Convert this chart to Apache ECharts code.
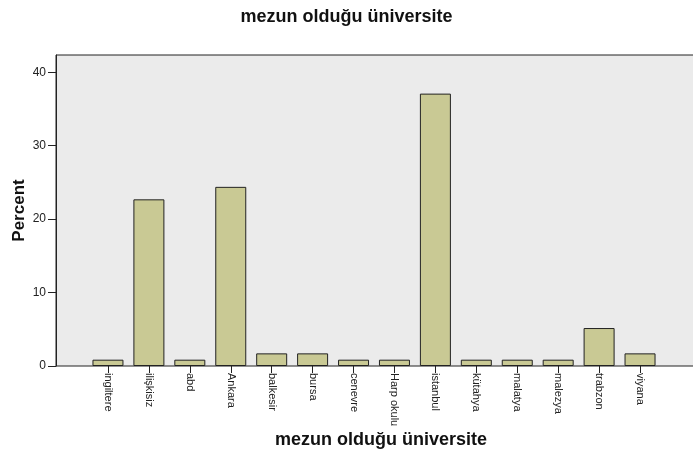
<!DOCTYPE html>
<html>
<head>
<meta charset="utf-8">
<script src="https://cdn.jsdelivr.net/npm/echarts@6/dist/echarts.min.js"></script>
<style>
  html, body { margin: 0; padding: 0; background: #fff; }
  #chart { width: 693px; height: 451px; }
</style>
</head>
<body>
<div id="chart"></div>
<script>
// mezun olduğu üniversite - percent per university
const universities = ['ingiltere', 'ilişkisiz', 'abd', 'Ankara', 'balkesir', 'bursa', 'cenevre',
  'Harp okulu', 'istanbul', 'kütahya', 'malatya', 'malezya', 'trabzon', 'viyana']
const percents = [0.86, 22.7, 0.86, 24.4, 1.72, 1.72, 0.86, 0.86, 37.1, 0.86, 0.86, 0.86, 5.17, 1.72]
const yTicks = [0, 10, 20, 30, 40]
const yMax = 42.36

const font = 'Arial, "Liberation Sans", Helvetica, sans-serif'
const chart = echarts.init(document.getElementById('chart'), null, { renderer: 'canvas' })

chart.setOption({
  animation: false,
  textStyle: { fontFamily: font },
  title: {
    text: 'mezun olduğu üniversite',
    left: 'center',
    top: 3,
    textStyle: { fontFamily: font, fontSize: 18, fontWeight: 'bold', color: '#111' },
  },
  grid: [
    // frame / background (right edge runs off the picture)
    { left: 56, top: 55, right: -3, bottom: 85, containLabel: false, outerBoundsMode: 'none',
      show: true, backgroundColor: '#ebebeb', borderColor: '#222', borderWidth: 1 },
    // bars
    { left: 87.5, top: 55, right: 32.5, bottom: 85, containLabel: false, outerBoundsMode: 'none' },
  ],
  xAxis: [
    { gridIndex: 0, type: 'value', show: false, min: 0, max: 1 },
    {
      gridIndex: 1,
      type: 'category',
      data: universities,
      name: 'mezun olduğu üniversite',
      nameLocation: 'middle',
      nameGap: 65,
      nameMoveOverlap: false,
      nameTextStyle: { fontFamily: font, fontSize: 18, fontWeight: 'bold', color: '#111', padding: [0, 0, 0, 14] },
      axisLine: { show: false },
      axisTick: { show: true, alignWithLabel: true, length: 7, lineStyle: { color: '#222' } },
      axisLabel: { rotate: -90, margin: 7, fontSize: 11, color: '#222', fontFamily: font, interval: 0 },
      splitLine: { show: false },
    },
  ],
  yAxis: [
    {
      gridIndex: 0,
      type: 'value',
      min: 0,
      max: yMax,
      name: 'Percent',
      nameLocation: 'middle',
      nameGap: 28,
      nameMoveOverlap: false,
      nameTextStyle: { fontFamily: font, fontSize: 17, fontWeight: 'bold', color: '#111' },
      axisLine: { show: true, lineStyle: { color: '#222' } },
      axisTick: { show: true, length: 8, customValues: yTicks, lineStyle: { color: '#222' } },
      axisLabel: { customValues: yTicks, margin: 10, fontSize: 12, color: '#222', fontFamily: font },
      splitLine: { show: false },
    },
    { gridIndex: 1, type: 'value', min: 0, max: yMax, show: false, splitLine: { show: false } },
  ],
  series: [{
    type: 'bar',
    xAxisIndex: 1,
    yAxisIndex: 1,
    data: percents,
    barWidth: 31,
    itemStyle: { color: '#c9c994', borderColor: '#222', borderWidth: 1 },
  }],
})
</script>
</body>
</html>
